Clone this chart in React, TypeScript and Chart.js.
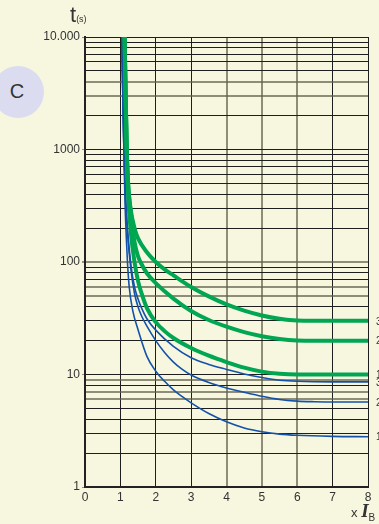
import React, { useEffect, useRef } from "react";
import { Chart, registerables } from "chart.js";

Chart.register(...registerables);

// ---- data ----
const xTickLabels = ["0", "1", "2", "3", "4", "5", "6", "7", "8"];
const yMajorTicks = [1, 10, 100, 1000, 10000];
const yMajorLabels = ["1", "10", "100", "1000", "10.000"];
const curveLabels = ["3", "2", "1", "3", "2", "1"];

const green3X = [1.12, 1.15, 1.18, 1.22, 1.3, 1.4, 1.5, 1.75, 2, 2.25, 2.5, 3, 3.5, 4, 4.5, 5, 5.5, 6, 7, 8];
const green3Y = [10000, 3000, 1000, 480, 282, 200, 162, 122, 100, 86, 76, 60, 49.5, 42, 37, 33.5, 31.3, 30.2, 30, 30];

const green2X = [1.12, 1.15, 1.18, 1.22, 1.3, 1.4, 1.5, 1.6, 1.75, 2, 2.5, 3, 3.5, 4, 4.5, 5, 5.5, 6, 6.5, 7, 8];
const green2Y = [10000, 3000, 1000, 500, 269, 151, 112, 95.5, 79.4, 65, 47.3, 36.7, 30.5, 26.6, 23.8, 21.9, 20.7, 20.1, 20, 20, 20];

const green1X = [1.12, 1.15, 1.18, 1.22, 1.3, 1.4, 1.5, 1.6, 1.75, 2, 2.25, 2.5, 3, 3.5, 4, 4.5, 5, 5.5, 6, 7, 8];
const green1Y = [10000, 3000, 1000, 400, 178, 100, 67.6, 52.5, 38.9, 29.2, 24.3, 21.1, 17.2, 14.7, 12.9, 11.5, 10.6, 10.15, 10, 10, 10];

const blue3X = [1.04, 1.07, 1.1, 1.15, 1.2, 1.3, 1.4, 1.5, 1.6, 1.75, 2, 2.5, 3, 3.5, 4, 4.5, 5, 5.5, 6, 7, 8];
const blue3Y = [10000, 3000, 1000, 380, 200, 93, 60, 46.8, 38.9, 31.3, 24.8, 17.8, 14.1, 12.3, 11.1, 10.1, 9.4, 8.9, 8.7, 8.6, 8.6];

const blue2X = [1.04, 1.07, 1.1, 1.14, 1.2, 1.3, 1.4, 1.5, 1.6, 1.75, 2, 2.25, 2.5, 2.75, 3, 3.5, 4, 4.5, 5, 5.5, 6, 6.5, 7, 8];
const blue2Y = [10000, 3000, 1000, 400, 182, 85, 52.5, 39.8, 33.1, 26.9, 20, 15.7, 12.9, 11.1, 9.9, 8.5, 7.6, 6.95, 6.4, 6.0, 5.8, 5.73, 5.7, 5.7];

const blue1X = [1.04, 1.07, 1.1, 1.13, 1.17, 1.2, 1.25, 1.35, 1.5, 1.75, 2, 2.25, 2.5, 2.75, 3, 3.5, 4, 4.5, 5, 5.5, 6, 7, 8];
const blue1Y = [10000, 3000, 1000, 350, 160, 100, 60, 37, 25, 14.5, 10.7, 8.7, 7.3, 6.35, 5.6, 4.5, 3.8, 3.35, 3.1, 2.95, 2.88, 2.82, 2.8];

const grayY = [4000, 3000, 100, 60, 50, 9, 7, 6];
const grayX = [0, 4, 5, 6];

const GREEN = "#00A651";
const BLUE = "#1352A8";
const BG = "#F7F7E0";
const TEXT = "#333333";
const FONT = "'Liberation Sans', Arial, sans-serif";

const zip = (xs: number[], ys: number[]) => xs.map((x, i) => ({ x, y: ys[i] }));

function buildYTicks(): number[] {
  const out: number[] = [];
  for (let d = 1; d < 10000; d *= 10) {
    for (let m = 1; m < 10; m++) out.push(m * d);
  }
  out.push(10000);
  return out;
}

export default function App() {
  const ref = useRef<HTMLCanvasElement | null>(null);

  useEffect(() => {
    if (!ref.current) return;
    const series = [
      { data: zip(green3X, green3Y), color: GREEN, w: 4 },
      { data: zip(green2X, green2Y), color: GREEN, w: 4 },
      { data: zip(green1X, green1Y), color: GREEN, w: 4 },
      { data: zip(blue3X, blue3Y), color: BLUE, w: 1.6 },
      { data: zip(blue2X, blue2Y), color: BLUE, w: 1.6 },
      { data: zip(blue1X, blue1Y), color: BLUE, w: 1.6 },
    ];

    const rightLabels = {
      id: "rightLabels",
      afterDraw(chart: any) {
        const ctx = chart.ctx;
        const ys = chart.scales.y;
        ctx.save();
        ctx.font = `10px ${FONT}`;
        ctx.fillStyle = TEXT;
        ctx.textAlign = "left";
        ctx.textBaseline = "middle";
        series.forEach((s, i) => {
          const last = s.data[s.data.length - 1].y;
          ctx.fillText(curveLabels[i], 376, ys.getPixelForValue(last) + 1);
        });
        ctx.restore();
      },
    };

    const chart = new Chart(ref.current, {
      type: "line",
      data: {
        datasets: series.map((s) => ({
          data: s.data,
          borderColor: s.color,
          borderWidth: s.w,
          pointRadius: 0,
          fill: false,
          cubicInterpolationMode: "monotone" as const,
        })),
      },
      options: {
        animation: false,
        responsive: false,
        maintainAspectRatio: false,
        layout: { padding: { left: 0, top: 37, right: 11, bottom: 0 } },
        plugins: { legend: { display: false }, tooltip: { enabled: false } },
        scales: {
          x: {
            type: "linear",
            min: 0,
            max: 8,
            afterBuildTicks: (scale: any) => {
              scale.ticks = xTickLabels.map((_, i) => ({ value: i }));
            },
            afterFit: (scale: any) => {
              scale.height = 37;
            },
            ticks: {
              autoSkip: false,
              maxRotation: 0,
              padding: 3,
              color: TEXT,
              font: { family: FONT, size: 12 },
              callback: (v: any) => xTickLabels[Number(v)] ?? "",
            },
            grid: {
              drawTicks: false,
              color: (c: any) => (c.tick && grayX.includes(c.tick.value) ? "rgba(95,95,75,0.7)" : "#1e1e1e"),
              lineWidth: (c: any) => (c.tick && grayX.includes(c.tick.value) ? 2 : 1),
            },
            border: { display: true, color: "#222", width: 2 },
          },
          y: {
            type: "logarithmic",
            min: 1,
            max: 10000,
            afterBuildTicks: (scale: any) => {
              scale.ticks = buildYTicks().map((v) => ({ value: v, major: yMajorTicks.includes(v) }));
            },
            afterFit: (scale: any) => {
              scale.width = 85;
            },
            ticks: {
              autoSkip: false,
              padding: 2,
              color: TEXT,
              font: { family: FONT, size: 12 },
              callback: (v: any) => {
                const idx = yMajorTicks.indexOf(Number(v));
                return idx >= 0 ? yMajorLabels[idx] : "";
              },
            },
            grid: {
              tickLength: 3,
              color: (c: any) => (c.tick && grayY.includes(c.tick.value) ? "rgba(95,95,75,0.7)" : "#1e1e1e"),
              lineWidth: (c: any) => (c.tick && grayY.includes(c.tick.value) ? 2 : 1),
              tickColor: (c: any) =>
                c.tick && yMajorTicks.includes(c.tick.value) ? "rgba(120,120,100,0.8)" : "rgba(0,0,0,0)",
            },
            border: { display: true, color: "#222", width: 2 },
          },
        },
      },
      plugins: [rightLabels],
    });
    return () => chart.destroy();
  }, []);

  return (
    <div
      style={{
        position: "fixed",
        left: 0,
        top: 0,
        width: 379,
        height: 524,
        background: BG,
        overflow: "hidden",
        fontFamily: FONT,
        color: TEXT,
      }}
    >
      <canvas ref={ref} width={379} height={524} style={{ position: "absolute", left: 0, top: 0, display: "block" }} />
      <div
        style={{
          position: "absolute",
          left: -8,
          top: 66,
          width: 52,
          height: 52,
          borderRadius: "50%",
          background: "#DCDCF0",
          display: "flex",
          alignItems: "center",
          justifyContent: "center",
          fontSize: 20,
          lineHeight: "20px",
        }}
      >
        <span style={{ marginLeft: -2, marginTop: -2 }}>C</span>
      </div>
      <div style={{ position: "absolute", left: 70, top: 4, fontSize: 22, lineHeight: "22px", whiteSpace: "nowrap" }}>
        t<span style={{ fontSize: 9 }}>(s)</span>
      </div>
      <div style={{ position: "absolute", left: 351, top: 502, fontSize: 13, lineHeight: "18px", whiteSpace: "nowrap" }}>
        x{" "}
        <span style={{ fontFamily: "'Liberation Serif', serif", fontStyle: "italic", fontWeight: "bold", fontSize: 19 }}>I</span>
        <span style={{ fontSize: 10, position: "relative", top: 4 }}>B</span>
      </div>
    </div>
  );
}
